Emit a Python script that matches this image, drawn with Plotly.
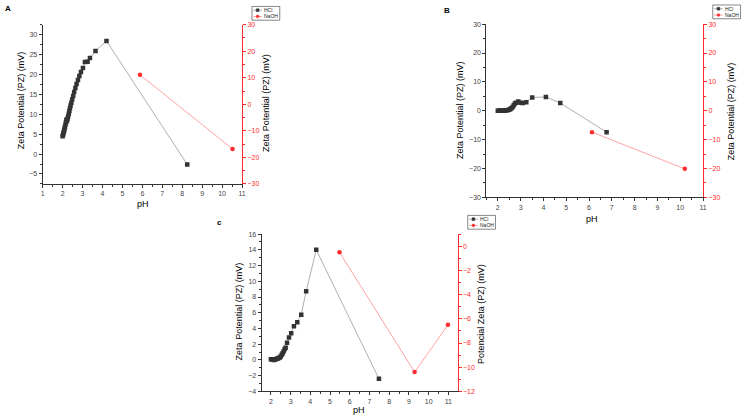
import plotly.graph_objects as go

# ---- Panel A data ----
a_hcl_ph = [2.00, 2.02, 2.04, 2.06, 2.08, 2.10, 2.12, 2.15, 2.17, 2.19, 2.22, 2.25, 2.28, 2.31, 2.34,
            2.37, 2.40, 2.44, 2.48, 2.53, 2.58, 2.64, 2.70, 2.77, 2.84, 2.92, 3.02, 3.12, 3.25, 3.37,
            3.65, 4.20, 8.25]
a_hcl_zp = [4.5, 4.8, 5.2, 5.6, 6.0, 6.4, 6.9, 7.5, 8.0, 8.6, 8.3, 8.9, 9.5, 10.1, 10.8,
            11.5, 12.2, 12.9, 13.7, 14.6, 15.6, 16.6, 17.6, 18.6, 19.6, 20.6, 21.6, 23.1, 23.2, 24.1,
            25.9, 28.4, -2.6]
a_naoh_ph = [5.88, 10.52]
a_naoh_zp = [11.1, -16.8]

# ---- Panel B data ----
b_hcl_ph = [2.00, 2.05, 2.10, 2.15, 2.20, 2.25, 2.30, 2.35, 2.40, 2.45, 2.50, 2.55, 2.60, 2.65,
            2.70, 2.75, 2.80, 2.90, 3.00, 3.10, 3.25, 3.51, 4.11, 4.74, 6.77]
b_hcl_zp = [0.0, 0.0, 0.1, 0.0, 0.1, 0.0, 0.1, 0.2, 0.2, 0.3, 0.4, 0.6, 0.9, 1.3,
            1.9, 2.5, 2.8, 3.2, 2.8, 2.7, 3.0, 4.6, 4.8, 2.7, -7.4]
b_naoh_ph = [6.13, 10.20]
b_naoh_zp = [-7.4, -20.1]

# ---- Panel C data ----
c_hcl_ph = [2.00, 2.05, 2.10, 2.15, 2.20, 2.25, 2.30, 2.35, 2.40, 2.45, 2.50, 2.55, 2.60, 2.65,
            2.70, 2.75, 2.82, 2.92, 3.03, 3.17, 3.34, 3.54, 3.79, 4.30, 7.48]
c_hcl_zp = [0.1, 0.1, 0.05, 0.0, 0.05, 0.1, 0.15, 0.2, 0.25, 0.3, 0.45, 0.65, 0.85, 1.1,
            1.4, 1.55, 2.2, 2.85, 3.4, 4.3, 4.8, 5.75, 8.75, 14.0, -2.4]
c_naoh_ph = [5.48, 9.29, 10.98]
c_naoh_zp = [-0.5, -10.4, -6.5]

series_names = ["HCl", "NaOH"]
y_title = "Zeta Potential (PZ) (mV)"
y_title_c_right = "Potencial Zeta (PZ) (mV)"
x_title = "pH"

FONT = "Liberation Sans, Arial, sans-serif"
BLACK = "#333333"
RED = "#ff2a2a"
HCL_LINE = "#9a9a9a"
NAOH_LINE = "#ff8c8c"

fig = go.Figure()

def add_pair(xa, ya_l, ya_r, hx, hy, nx, ny):
    fig.add_trace(go.Scatter(x=hx, y=hy, xaxis=xa, yaxis=ya_l, name=series_names[0],
                             mode="lines+markers", showlegend=False,
                             line=dict(color=HCL_LINE, width=0.8),
                             marker=dict(symbol="square", size=4.5, color=BLACK)))
    fig.add_trace(go.Scatter(x=nx, y=ny, xaxis=xa, yaxis=ya_r, name=series_names[1],
                             mode="lines+markers", showlegend=False,
                             line=dict(color=NAOH_LINE, width=0.8),
                             marker=dict(symbol="circle", size=4.5, color=RED)))

add_pair("x", "y", "y2", a_hcl_ph, a_hcl_zp, a_naoh_ph, a_naoh_zp)
add_pair("x2", "y3", "y4", b_hcl_ph, b_hcl_zp, b_naoh_ph, b_naoh_zp)
add_pair("x3", "y5", "y6", c_hcl_ph, c_hcl_zp, c_naoh_ph, c_naoh_zp)

W, H = 750.0, 420.0

def px_x(p):
    return p / W

def px_y(p):
    return 1 - p / H

tickfont = dict(family=FONT, size=7, color="#444444")
redtick = dict(family=FONT, size=7, color=RED)

def xaxis(domain, rng, anchor, minor):
    return dict(domain=domain, range=rng, anchor=anchor, showgrid=False, zeroline=False,
                showline=True, linecolor=BLACK, linewidth=1, ticks="outside", ticklen=3,
                tickcolor=BLACK, dtick=1, tickfont=tickfont,
                minor=dict(ticks="outside", ticklen=2, tickcolor=BLACK, dtick=minor))

def yleft(domain, rng, anchor, dtick, minor):
    return dict(domain=domain, range=rng, anchor=anchor, showgrid=False, zeroline=False,
                showline=True, linecolor=BLACK, linewidth=1, ticks="outside", ticklen=3,
                tickcolor=BLACK, dtick=dtick, tickfont=tickfont,
                minor=dict(ticks="outside", ticklen=2, tickcolor=BLACK, dtick=minor))

def yright(over, rng, anchor, dtick, minor):
    return dict(overlaying=over, side="right", range=rng, anchor=anchor, showgrid=False,
                zeroline=False, showline=True, linecolor=RED, linewidth=1, ticks="outside",
                ticklen=3, tickcolor=RED, dtick=dtick, tickfont=redtick,
                minor=dict(ticks="outside", ticklen=2, tickcolor=RED, dtick=minor))

xA = [px_x(41), px_x(242)]
yA = [px_y(183), px_y(21)]
xB = [px_x(488.3), px_x(706.7)]
yB = [px_y(196.7), px_y(20.5)]
xC = [px_x(261.7), px_x(459.3)]
yC = [px_y(394), px_y(234)]

annotations = []
shapes = []

def text(t, x, y, size=9, angle=0, bold=False, xanchor="center", color="#000000"):
    annotations.append(dict(text=("<b>%s</b>" % t) if bold else t, x=px_x(x), y=px_y(y),
                            xref="paper", yref="paper", xanchor=xanchor, yanchor="middle",
                            showarrow=False, textangle=angle,
                            font=dict(family=FONT, size=size, color=color)))

# axis titles
text(y_title, 20, 98, angle=-90)
text(y_title, 266.7, 101, angle=-90)
text(x_title, 142, 203)
text(y_title, 461, 107.5, angle=-90)
text(y_title, 735, 109, angle=-90)
text(x_title, 595, 219)
text(y_title, 239, 312.5, angle=-90)
text(y_title_c_right, 483, 315, angle=-90)
text(x_title, 360, 413)

# panel labels
text("A", 1, 5, size=8, bold=True, xanchor="left")
text("B", 444, 7, size=8, bold=True, xanchor="left")
text("c", 215, 222, size=8, bold=True, xanchor="left")

# compact legends (box, sample line, marker, label)
def legend(left, top, w=28, h=14):
    shapes.append(dict(type="rect", xref="paper", yref="paper",
                       x0=px_x(left), x1=px_x(left + w), y0=px_y(top + h), y1=px_y(top),
                       line=dict(color="#555555", width=0.7), fillcolor="white"))
    rows = [(top + 3.8, BLACK, HCL_LINE, "square"), (top + 10.2, RED, NAOH_LINE, "circle")]
    for (yy, mcol, lcol, sym), name in zip(rows, series_names):
        shapes.append(dict(type="line", xref="paper", yref="paper",
                           x0=px_x(left + 1.5), x1=px_x(left + 10), y0=px_y(yy), y1=px_y(yy),
                           line=dict(color=lcol, width=0.8)))
        cx = left + 5.7
        r = 1.4
        shapes.append(dict(type="rect" if sym == "square" else "circle", xref="paper", yref="paper",
                           x0=px_x(cx - r), x1=px_x(cx + r), y0=px_y(yy + r), y1=px_y(yy - r),
                           line=dict(color=mcol, width=0.5), fillcolor=mcol))
        text(name, left + 10.5, yy, size=5, xanchor="left", color="#222222")

legend(252, 2.5)
legend(716.5, 1)
legend(469.5, 215)

fig.update_layout(
    width=750, height=420, margin=dict(l=0, r=0, t=0, b=0),
    paper_bgcolor="white", plot_bgcolor="white",
    font=dict(family=FONT), showlegend=False,
    xaxis=xaxis(xA, [1, 11], "y", 0.5),
    yaxis=yleft(yA, [-7.5, 32.5], "x", 5, 2.5),
    yaxis2=yright("y", [-30, 30], "x", 10, 5),
    xaxis2=xaxis(xB, [1.5, 11], "y3", 0.5),
    yaxis3=yleft(yB, [-30, 30], "x2", 10, 5),
    yaxis4=yright("y3", [-30, 30], "x2", 10, 5),
    xaxis3=xaxis(xC, [1.53, 11.47], "y5", 0.5),
    yaxis5=yleft(yC, [-4, 16], "x3", 2, 1),
    yaxis6=yright("y5", [-12, 1], "x3", 2, 1),
    annotations=annotations,
    shapes=shapes,
)

fig.write_html("out.html",
               config={"displayModeBar": False},
               post_script="document.body.style.margin='0';document.body.style.overflow='hidden';")
